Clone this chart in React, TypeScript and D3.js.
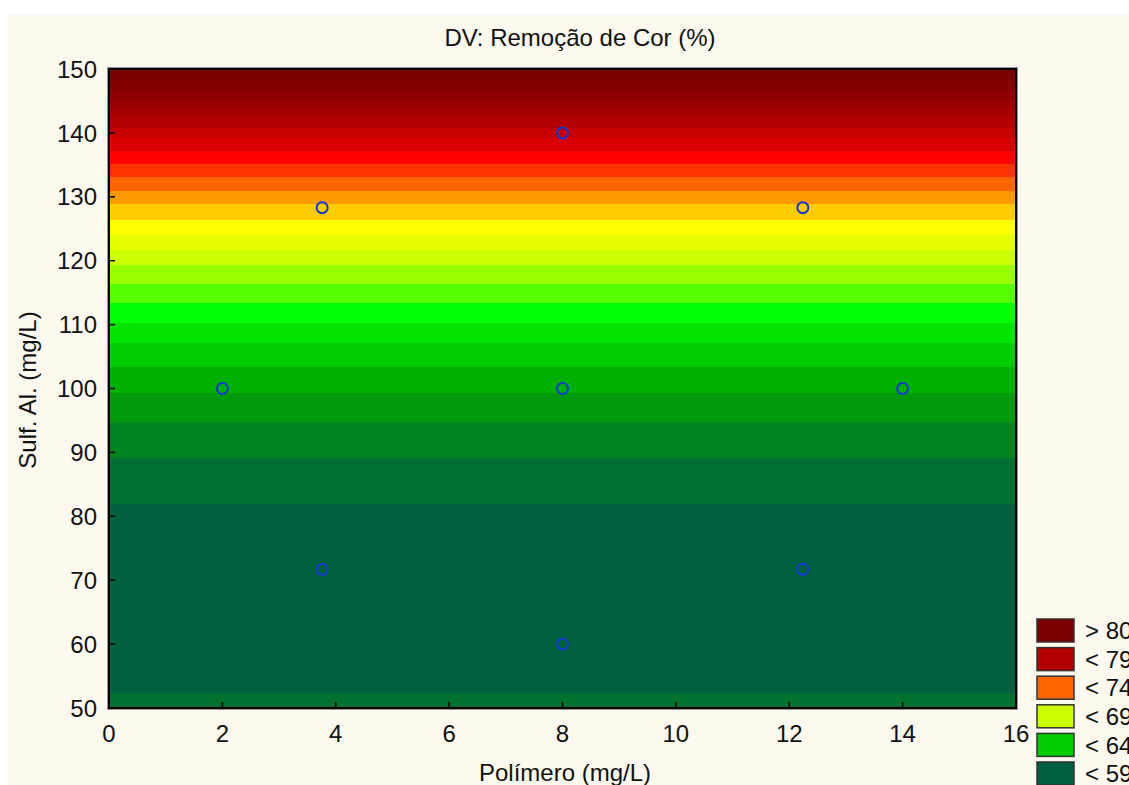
import * as d3 from "d3";

// band edges on the Sulf. Al. axis, top to bottom
const bandEdges = [150, 148.4, 146.7, 145.2, 143.8, 142.3, 140.8, 139.2, 137.2, 135.1, 133.1, 130.9, 128.8, 126.4, 124.1, 121.7, 119.3, 116.4, 113.4, 110.2, 107.1, 103.4, 99.3, 94.8, 89.2, 81.9, 52.3, 50];
const bandColors = [
  "#780000", "#830000", "#8e0000", "#9a0000", "#a60000", "#b40000", "#c40000", "#d80000",
  "#ff0000", "#ff3300", "#ff6600", "#ff9900", "#ffcc00", "#ffff00", "#e5ff00", "#ccff00",
  "#99ff00", "#55ff00", "#00ff00", "#00e400", "#00cc00", "#00b000", "#009a0a", "#008420",
  "#007030", "#006040", "#007030",
];

const polimero = [2, 3.76, 8, 12.24, 14, 8, 3.76, 12.24, 8];
const sulfato = [100, 128.3, 140, 128.3, 100, 100, 71.7, 71.7, 60];

const xTicks = [0, 2, 4, 6, 8, 10, 12, 14, 16];
const yTicks = [50, 60, 70, 80, 90, 100, 110, 120, 130, 140, 150];

const legendLabels = ["> 80", "< 79", "< 74", "< 69", "< 64", "< 59"];
const legendColors = ["#7a0000", "#b30000", "#ff6600", "#ccff00", "#00cc00", "#006040"];

const font = "'Liberation Sans', Arial, sans-serif";

export default function App() {
  const left = 109, right = 1016, top = 69, bottom = 708;
  const x = d3.scaleLinear().domain([0, 16]).range([left, right]);
  const y = d3.scaleLinear().domain([50, 150]).range([bottom, top]);

  return (
    <svg
      width={1129}
      height={785}
      style={{ position: "absolute", left: 0, top: 0, display: "block" }}
      fontFamily={font}
    >
      <rect x={0} y={0} width={1129} height={785} fill="#ffffff" />
      <rect x={8} y={15} width={1121} height={770} fill="#fdf9ef" />

      <text x={580} y={46} textAnchor="middle" fontSize={24} fill="#111">
        DV: Remoção de Cor (%)
      </text>

      {bandColors.map((c, i) => (
        <rect
          key={i}
          x={left}
          y={y(bandEdges[i])}
          width={right - left}
          height={y(bandEdges[i + 1]) - y(bandEdges[i])}
          fill={c}
          shapeRendering="crispEdges"
        />
      ))}

      {yTicks.map((t) => (
        <g key={"y" + t}>
          <line x1={left} x2={left + 6} y1={y(t)} y2={y(t)} stroke="#000" strokeWidth={1.5} />
          <text x={97} y={y(t)} dy="0.36em" textAnchor="end" fontSize={24} fill="#111">
            {t}
          </text>
        </g>
      ))}
      {xTicks.map((t) => (
        <g key={"x" + t}>
          <line x1={x(t)} x2={x(t)} y1={bottom} y2={bottom - 6} stroke="#000" strokeWidth={1.5} />
          <text x={x(t)} y={742} textAnchor="middle" fontSize={24} fill="#111">
            {t}
          </text>
        </g>
      ))}

      <rect x={left - 1.5} y={top - 1.5} width={right - left + 3} height={bottom - top + 3} fill="none" stroke="#999" strokeWidth={1} />
      <rect x={left} y={top} width={right - left} height={bottom - top} fill="none" stroke="#000" strokeWidth={2} />

      {polimero.map((p, i) => (
        <circle key={i} cx={x(p)} cy={y(sulfato[i])} r={5.5} fill="none" stroke="#1538d0" strokeWidth={2} />
      ))}

      <text x={565} y={781} textAnchor="middle" fontSize={24} fill="#111">
        Polímero (mg/L)
      </text>
      <text transform="translate(36,390) rotate(-90)" textAnchor="middle" fontSize={24} fill="#111">
        Sulf. Al. (mg/L)
      </text>

      {legendLabels.map((l, i) => (
        <g key={l} transform={`translate(1037,${619 + i * 28.6})`}>
          <rect x={0} y={0} width={37} height={23} fill={legendColors[i]} stroke="#333" strokeWidth={1.5} />
          <text x={48} y={11.5} dy="0.36em" fontSize={24} fill="#111">
            {l}
          </text>
        </g>
      ))}
    </svg>
  );
}
